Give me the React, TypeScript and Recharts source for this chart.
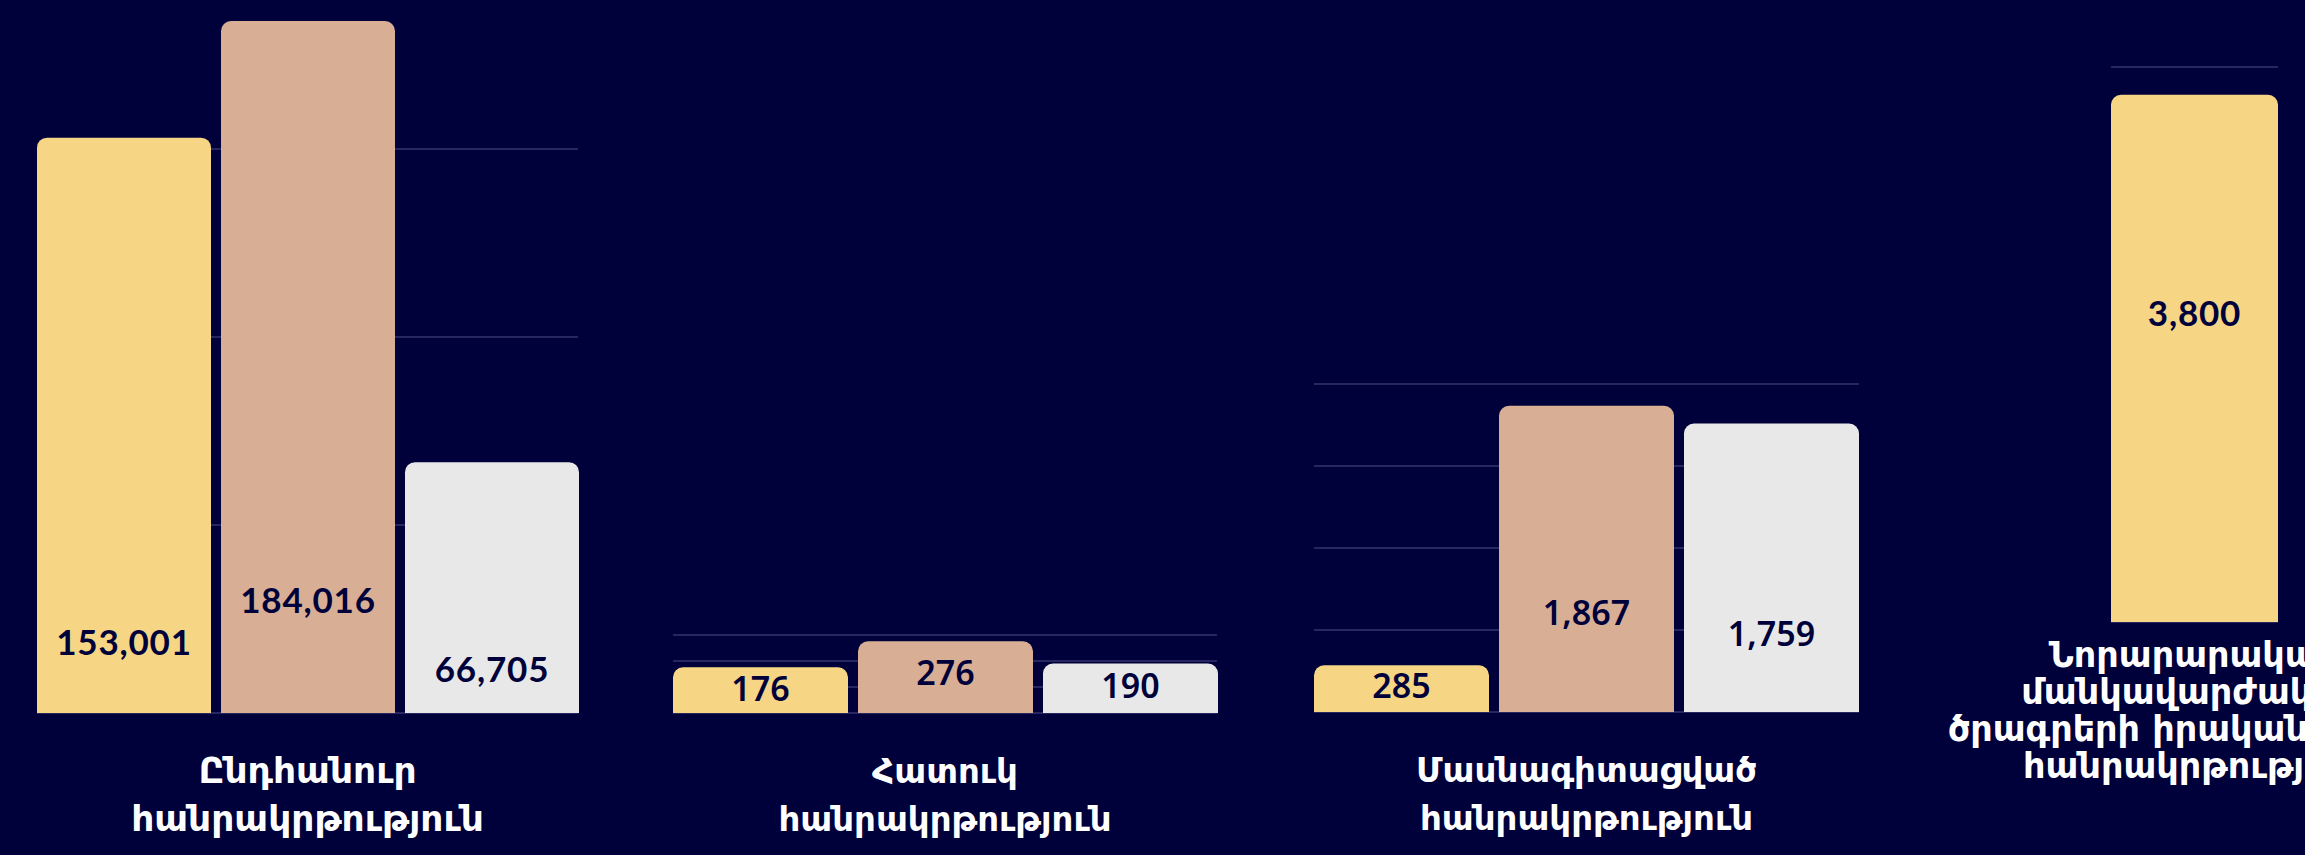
import { BarChart, Bar, XAxis, YAxis, CartesianGrid, LabelList } from "recharts";

const categories = [
  ["Ընդհանուր", "հանրակրթություն"],
  ["Հատուկ", "հանրակրթություն"],
  ["Մասնագիտացված", "հանրակրթություն"],
  ["Նորարարական", "մանկավարժական", "ծրագրերի իրականացման", "հանրակրթություն"],
];
const yellowValues = [153001, 176, 285, 3800];
const tanValues: (number | null)[] = [184016, 276, 1867, null];
const whiteValues: (number | null)[] = [66705, 190, 1759, null];
const tickSets = [
  [0, 50000, 100000, 150000],
  [0, 50, 100, 150, 200, 250, 300],
  [0, 500, 1000, 1500, 2000],
  [0, 1000, 2000, 3000, 4000],
];

const BG = "#00003a";
const GRID = "#33356e";
const COLORS = { yellow: "#f6d585", tan: "#d8af94", white: "#e8e8e8" };
const WIDE = { family: "Lato, 'DejaVu Sans', sans-serif", weight: 700, size: 35, spacing: 0.8 };
const NARROW = { family: "'Noto Sans', 'DejaVu Sans', sans-serif", weight: 600, size: 34, spacing: 0 };

// per-panel layout: chart box, plot margins, where the value sits in each bar
const PANELS = [
  { left: 0, width: 610, margin: { top: 21, right: 32, left: 37, bottom: 0 }, axisH: 142, max: "dataMax", firstDy: 70, lineH: 48, catSize: 36, valueFont: WIDE, labelPos: [0.877, 0.837, 0.825] },
  { left: 620, width: 640, margin: { top: 635, right: 43, left: 53, bottom: 0 }, axisH: 142, max: 300, firstDy: 70, lineH: 48, catSize: 34, valueFont: NARROW, labelPos: [0.48, 0.44, 0.45] },
  { left: 1260, width: 640, margin: { top: 384, right: 41, left: 54, bottom: 0 }, axisH: 143, max: 2000, firstDy: 70, lineH: 48, catSize: 34, valueFont: NARROW, labelPos: [0.44, 0.675, 0.73] },
  { left: 1880, width: 425, margin: { top: 67, right: 27, left: 231, bottom: 0 }, axisH: 233, max: 4000, firstDy: 45, lineH: 37, catSize: 35, valueFont: WIDE, labelPos: [0.415] },
];

function ValueLabel(props: any) {
  const { x, y, width, height, value, pos, font } = props;
  if (value == null) return null;
  return (
    <text
      x={x + width / 2}
      y={y + height * pos + font.size * 0.36}
      textAnchor="middle"
      fill={BG}
      fontFamily={font.family}
      fontWeight={font.weight}
      fontSize={font.size}
      letterSpacing={font.spacing}
    >
      {Number(value).toLocaleString("en-US")}
    </text>
  );
}

function CategoryTick(props: any) {
  const { x, y, payload, firstDy, lineH, size } = props;
  const lines = categories[payload.value] || [];
  return (
    <text x={x} y={y} textAnchor="middle" fill="#ffffff" fontFamily="'DejaVu Sans', sans-serif" fontWeight={700} fontSize={size}>
      {lines.map((l, i) => (
        <tspan key={i} x={x} dy={i === 0 ? firstDy : lineH}>
          {l}
        </tspan>
      ))}
    </text>
  );
}

function Panel({ i }: { i: number }) {
  const p = PANELS[i];
  const data = [{ name: i, yellow: yellowValues[i], tan: tanValues[i], white: whiteValues[i] }];
  const series = (["yellow", "tan", "white"] as const).filter((k) => data[0][k] != null);
  return (
    <div style={{ position: "absolute", left: p.left, top: 0 }}>
      <BarChart width={p.width} height={855} data={data} margin={p.margin} barCategoryGap={0} barGap={10}>
        <CartesianGrid vertical={false} stroke={GRID} strokeWidth={1.5} horizontalValues={tickSets[i]} />
        <XAxis
          dataKey="name"
          height={p.axisH}
          axisLine={false}
          tickLine={false}
          tickSize={0}
          tickMargin={0}
          interval={0}
          tick={(tp: any) => <CategoryTick {...tp} firstDy={p.firstDy} lineH={p.lineH} size={p.catSize} />}
        />
        <YAxis hide domain={[0, p.max as any]} ticks={tickSets[i]} />
        {series.map((k, j) => (
          <Bar key={k} dataKey={k} fill={COLORS[k]} radius={[10, 10, 0, 0]} isAnimationActive={false}>
            <LabelList dataKey={k} content={(lp: any) => <ValueLabel {...lp} pos={p.labelPos[j]} font={p.valueFont} />} />
          </Bar>
        ))}
      </BarChart>
    </div>
  );
}

export default function App() {
  return (
    <div style={{ position: "absolute", left: 0, top: 0, width: 2305, height: 855, background: BG, overflow: "hidden" }}>
      {PANELS.map((_, i) => (
        <Panel key={i} i={i} />
      ))}
    </div>
  );
}
